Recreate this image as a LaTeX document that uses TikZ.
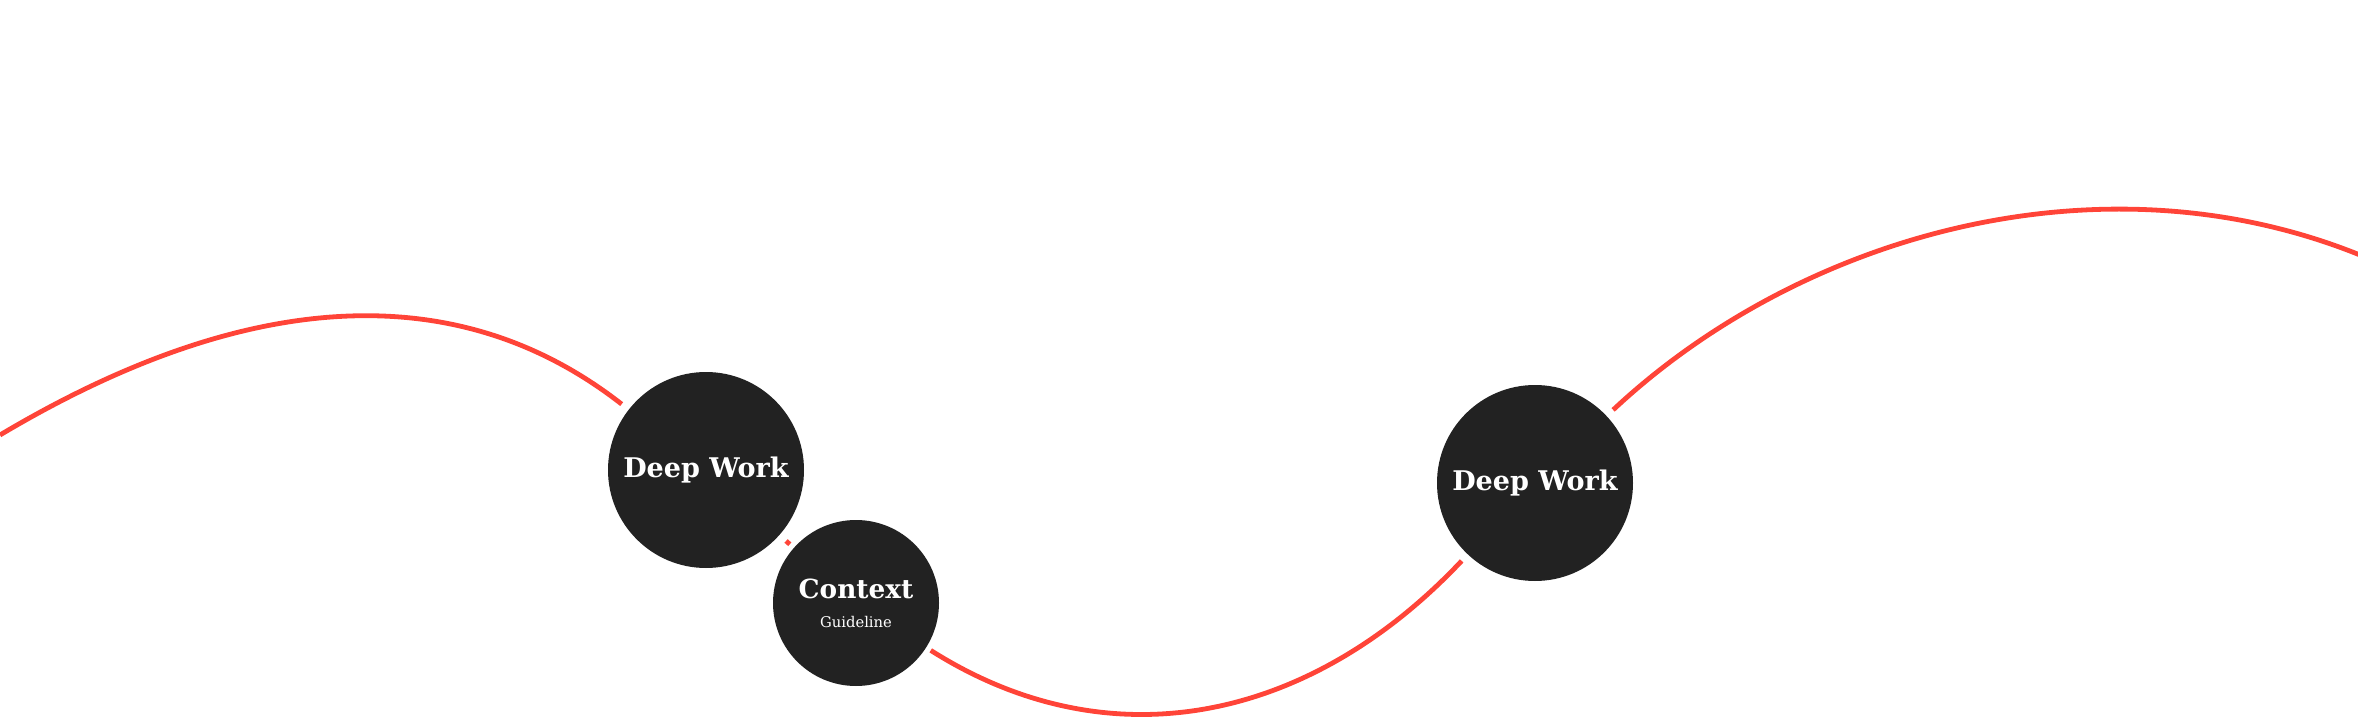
\documentclass[tikz,border=0pt]{standalone}
\usepackage{fontspec}
\setmainfont{DejaVu Serif}
\usepackage{xcolor}
\definecolor{dwdark}{HTML}{222222}
\definecolor{dwred}{HTML}{FF4438}
\usepackage{tikz}
\newcommand{\guidefont}{\mdseries\fontsize{4.2pt}{8.25pt}\selectfont}
\tikzset{
  worknode/.style={
    circle, fill=dwdark, text=white,
    minimum size=19.6mm, inner sep=0pt, outer sep=0.9mm,
    align=center, font=\bfseries\fontsize{7.7pt}{9pt}\selectfont
  },
  ctxnode/.style={
    circle, fill=dwdark, text=white,
    minimum size=16.6mm, inner sep=0pt, outer sep=0.55mm,
    align=center, font=\bfseries\fontsize{7.5pt}{8.25pt}\selectfont
  },
  wavelink/.style={draw=dwred, line width=0.48mm}
}

\begin{document}
\begin{tikzpicture}[x=0.1mm, y=-0.1mm]
  \useasboundingbox (0,0) rectangle (2358,718);

  \node[worknode] (dw1) at (706,470)  {Deep Work};
  \node[ctxnode]  (ctx) at (856,603)  {Context\\{\guidefont Guideline}};
  \node[worknode] (dw2) at (1535,483) {Deep Work};
  \coordinate (lft) at (0,435);
  \coordinate (rgt) at (2360,255);

  \draw[wavelink] (lft) .. controls (235,295) and (450,270) .. (dw1);
  \draw[wavelink] (dw1) -- (ctx);
  \draw[wavelink] (ctx) .. controls (1110,764) and (1310,722) .. (dw2);
  \draw[wavelink] (dw2) .. controls (1800,235) and (2100,150) .. (rgt);
\end{tikzpicture}
\end{document}
